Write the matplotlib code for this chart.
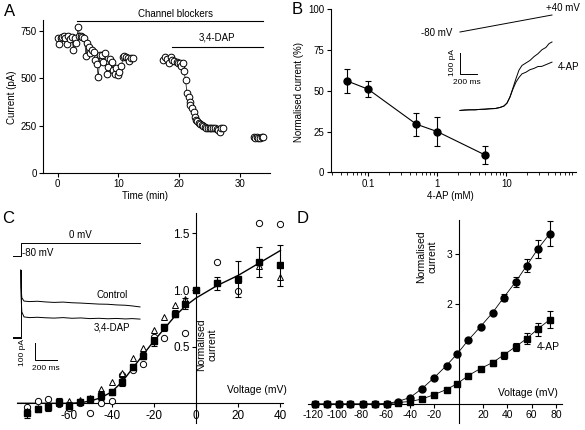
import matplotlib
matplotlib.use("Agg")
import matplotlib.pyplot as plt

plt.rcParams["font.family"] = ["Liberation Sans", "DejaVu Sans"]
plt.rcParams["font.size"] = 7
plt.rcParams["axes.linewidth"] = 0.8
plt.rcParams["axes.unicode_minus"] = False
plt.rcParams["xtick.major.width"] = 0.8
plt.rcParams["ytick.major.width"] = 0.8
plt.rcParams["xtick.major.size"] = 3
plt.rcParams["ytick.major.size"] = 3
plt.rcParams["xtick.major.pad"] = 1.5
plt.rcParams["ytick.major.pad"] = 1.5

W, H = 585, 430

# ---- panel A: current vs time ----
time_a = [0.0, 0.3, 0.5, 0.8, 1.0, 1.3, 1.6, 1.8, 2.1, 2.4, 2.6, 2.9, 3.1, 3.4, 3.6, 3.9,
          4.1, 4.4, 4.7, 4.9, 5.2, 5.4, 5.7, 6.0, 6.2, 6.5, 6.7, 7.0, 7.3, 7.5, 7.8, 8.1,
          8.3, 8.6, 8.9, 9.1, 9.4, 9.7, 9.9, 10.2, 10.5, 10.8, 11.0, 11.3, 11.6, 11.8,
          12.1, 12.4,
          17.4, 17.7, 18.1, 18.4, 18.7, 18.9, 19.2, 19.6, 19.9, 20.1, 20.4, 20.7, 20.8,
          21.1, 21.3, 21.6, 21.8, 21.9, 22.2, 22.4, 22.6, 22.8, 23.0, 23.3, 23.5, 23.8,
          24.0, 24.3, 24.5, 24.8, 25.1, 25.3, 25.6, 25.9, 26.2, 26.4, 26.7, 26.9, 27.3,
          32.3, 32.6, 32.9, 33.1, 33.4, 33.6, 33.8]
current_a = [715, 680, 712, 720, 725, 715, 680, 722, 710, 718, 650, 712, 685, 770, 725, 722,
             720, 715, 618, 685, 667, 635, 650, 640, 597, 574, 505, 623, 625, 588, 632, 523,
             561, 600, 588, 544, 523, 553, 517, 535, 565, 610, 617, 614, 605, 591,
             605, 609,
             597, 614, 600, 579, 610, 597, 591, 588, 582, 579, 565, 582, 540,
             491, 421, 400, 377, 359, 341, 324, 297, 280, 276, 266, 259, 253,
             248, 245, 239, 239, 236, 236, 239, 236, 231, 227, 218, 236, 239,
             188, 186, 189, 187, 186, 190, 192]
segments_a = [(0, 48), (48, 87), (87, 94)]

# ---- panel B: dose response ----
conc_b = [0.05, 0.1, 0.5, 1, 5]
mean_b = [56, 51, 29.5, 25, 10.5]
err_b = [7.5, 5, 7, 9, 5.5]
# inset traces (ms, pA) and ramp (mV)
t_b = [0, 59, 118, 176, 235, 294, 353, 412, 470, 517, 553, 588, 623, 659, 694, 729,
       776, 823, 870, 917, 964, 1011, 1047, 1082]
ctrl_b = [-2, 0, 1, 1, 3, 4, 6, 7, 12, 19, 33, 62, 105, 150, 190, 212, 224, 236, 254,
          268, 287, 298, 316, 324]
ap_b = [-2, 0, 1, 1, 3, 4, 6, 7, 12, 19, 33, 62, 100, 133, 155, 172, 180, 192, 198, 207,
        208, 216, 222, 228]
ramp_t = [0, 1082]
ramp_mv = [-80, 40]

# ---- panel C: I-V with 3,4-DAP ----
v_c = [-80, -75, -70, -65, -60, -55, -50, -45, -40, -35, -30, -25, -20, -15, -10, -5,
       0, 10, 20, 30, 40]
sq_c = [-0.09, -0.05, -0.035, 0.015, -0.02, 0.01, 0.035, 0.065, 0.10, 0.19, 0.32, 0.42,
        0.55, 0.67, 0.79, 0.88, 1.0, 1.06, 1.10, 1.25, 1.22]
sq_err_c = [0.04, 0.03, 0.03, 0.03, 0.03, 0.02, 0.03, 0.04, 0.03, 0.04, 0.03, 0.03,
            0.04, 0.03, 0.03, 0.05, 0, 0.06, 0.16, 0.13, 0.18]
tri_c = [-0.07, -0.045, -0.02, 0.0, 0.02, 0.025, 0.05, 0.13, 0.19, 0.27, 0.40, 0.49,
         0.65, 0.76, 0.87, 0.92, 1.0, 1.07, 1.09, 1.21, 1.12]
circ_c = [-0.03, 0.02, 0.04, -0.01, -0.04, 0.0, -0.09, 0.005, 0.02, 0.25, 0.29, 0.35,
          0.59, 0.58, 0.79, 0.62, 1.0, 1.25, 0.99, 1.59, 1.58]
vfit_c = [-85, -60, -55, -50, -45, -40, -35, -30, -25, -20, -15, -10, -5, 0, 10, 20, 30, 40]
fit_c = [0, 0, 0.005, 0.02, 0.05, 0.10, 0.19, 0.31, 0.43, 0.55, 0.66, 0.77, 0.86, 0.93,
         1.04, 1.13, 1.24, 1.35]
# inset traces (ms, pA) and step (mV)
t_c = [0, 3, 10, 30, 80, 150, 220, 300, 380, 460, 540, 620, 700, 780, 860, 940, 1000, 1070]
ctrl_c = [400, 300, 235, 215, 212, 214, 210, 207, 209, 205, 203, 200, 197, 196, 192, 190,
          186, 180]
dap_c = [400, 250, 150, 120, 116, 118, 115, 113, 116, 112, 114, 110, 112, 109, 111, 108,
         110, 107]
base_t = [-70, 0, 0]
base_pa = [0, 0, 400]
step_t = [-70, 0, 0, 1070]
step_mv = [-80, -80, 0, 0]

# ---- panel D: I-V with 4-AP ----
v_d = [-118, -108, -98, -89, -79, -69, -59, -50, -40, -30, -20, -10, -1, 8, 18, 28, 37,
       47, 56, 65, 75]
ctrl_d = [0, 0, 0, 0, 0, 0, 0.01, 0.05, 0.13, 0.31, 0.53, 0.77, 1.01, 1.28, 1.55, 1.83,
          2.13, 2.45, 2.77, 3.10, 3.41]
ctrl_err_d = [0, 0, 0, 0, 0, 0, 0, 0, 0, 0, 0, 0, 0, 0, 0, 0.03, 0.07, 0.10, 0.13, 0.18, 0.25]
ap_d = [0, 0, 0, 0, 0, 0, 0.0, 0.03, 0.05, 0.10, 0.19, 0.29, 0.41, 0.57, 0.71, 0.83,
        0.98, 1.15, 1.31, 1.50, 1.69]
ap_err_d = [0, 0, 0, 0, 0, 0, 0, 0, 0, 0, 0, 0, 0, 0, 0.03, 0.06, 0.07, 0.08, 0.11, 0.13, 0.17]


def box(l, t, r, b):
    return [l / W, 1 - b / H, (r - l) / W, (b - t) / H]


def ftext(fig, x, y, s, **kw):
    kw.setdefault("ha", "center")
    kw.setdefault("va", "center")
    fig.text(x / W, 1 - y / H, s, **kw)


fig = plt.figure(figsize=(W / 100, H / 100), dpi=100)

# ===== A =====
axA = fig.add_axes(box(43, 20, 270, 173))
for i0, i1 in segments_a:
    axA.plot(time_a[i0:i1], current_a[i0:i1], color="k", lw=0.5, marker="o", ms=4.8,
             mfc="white", mec="k", mew=0.7)
axA.plot([3.2, 33.8], [803, 803], color="k", lw=0.8, clip_on=False)
axA.plot([18.8, 33.8], [666, 666], color="k", lw=0.8)
axA.set_xlim(-2.4, 35)
axA.set_ylim(0, 808)
axA.set_xticks([0, 10, 20, 30])
axA.set_yticks([0, 250, 500, 750])
for s in ("top", "right"):
    axA.spines[s].set_visible(False)
ftext(fig, 176, 14, "Channel blockers", fontsize=7)
ftext(fig, 217, 37, "3,4-DAP", fontsize=7)
ftext(fig, 145, 196, "Time (min)", fontsize=7)
ftext(fig, 12, 97, "Current (pA)", fontsize=7, rotation=90)
ftext(fig, 10, 12, "A", fontsize=12)

# ===== B =====
axB = fig.add_axes(box(330.7, 9.3, 576, 172.3))
axB.errorbar(conc_b, mean_b, yerr=err_b, color="k", lw=0.8, marker="o", ms=5,
             capsize=2.2, elinewidth=0.8, capthick=0.8)
axB.set_xscale("log")
axB.set_xlim(0.0288, 102)
axB.set_ylim(0, 100)
axB.set_yticks([0, 25, 50, 75, 100])
axB.set_xticks([0.1, 1, 10])
axB.set_xticklabels(["0.1", "1", "10"])
axB.tick_params(axis="x", which="minor", length=2, width=0.6)
for s in ("top", "right"):
    axB.spines[s].set_visible(False)
ftext(fig, 450, 196, "4-AP (mM)", fontsize=7)
ftext(fig, 299, 92, "Normalised current (%)", fontsize=7, rotation=90)
ftext(fig, 297, 10, "B", fontsize=12)

insB = fig.add_axes(box(452, 5, 562, 118))
insB.plot(t_b, ctrl_b, color="k", lw=0.7)
insB.plot(t_b, ap_b, color="k", lw=0.7)
insB.plot([0, 0, 200], [271, 171, 171], color="k", lw=0.7)
insB.set_xlim(-94, 1200)
insB.set_ylim(-38, 500)
insB.axis("off")
rampB = insB.twinx()
rampB.plot(ramp_t, ramp_mv, color="k", lw=0.7)
rampB.set_ylim(-687, 110.6)
rampB.axis("off")
ftext(fig, 437, 33, "-80 mV", fontsize=7)
ftext(fig, 563, 8, "+40 mV", fontsize=7)
ftext(fig, 558, 67, "4-AP", fontsize=7, ha="left")
ftext(fig, 453, 63, "100 pA", fontsize=6, rotation=90)
ftext(fig, 467, 83, "200 ms", fontsize=6)

# ===== C =====
axC = fig.add_axes(box(17, 213, 283, 423))
axC.plot(vfit_c, fit_c, color="k", lw=1.0, zorder=2)
axC.plot(v_c, circ_c, ls="none", marker="o", ms=4.5, mfc="white", mec="k", mew=0.7,
         zorder=3)
axC.plot(v_c, tri_c, ls="none", marker="^", ms=5, mfc="white", mec="k", mew=0.7, zorder=3)
axC.errorbar(v_c, sq_c, yerr=sq_err_c, ls="none", marker="s", ms=4, color="k",
             capsize=2, elinewidth=0.8, capthick=0.8, zorder=4)
axC.set_xlim(-84.8, 41.2)
axC.set_ylim(-0.174, 1.681)
axC.spines["left"].set_position(("data", 0))
axC.spines["bottom"].set_position(("data", 0))
for s in ("top", "right"):
    axC.spines[s].set_visible(False)
axC.set_xticks([-60, -40, -20, 0, 20, 40])
axC.set_yticks([0.5, 1.0, 1.5])
axC.set_yticklabels(["0.5", "1.0", "1.5"])
axC.tick_params(labelsize=8.5)
ftext(fig, 207, 345, "Normalised\ncurrent", fontsize=7.5, rotation=90)
ftext(fig, 257, 390, "Voltage (mV)", fontsize=7.5)
ftext(fig, 8, 218, "C", fontsize=12)

insC = fig.add_axes(box(10, 228, 145, 375))
insC.plot(base_t, base_pa, color="k", lw=0.7)
insC.plot([-70, 0], [-8, -8], color="k", lw=0.7)
insC.plot(t_c, ctrl_c, color="k", lw=0.7)
insC.plot(t_c, dap_c, color="k", lw=0.7)
insC.plot([128, 128, 328], [-38, -138, -138], color="k", lw=0.7)
insC.set_xlim(-96, 1115)
insC.set_ylim(-228, 653)
insC.axis("off")
stepC = insC.twinx()
stepC.plot(step_t, step_mv, color="k", lw=0.7)
stepC.set_ylim(-830, 96)
stepC.axis("off")
ftext(fig, 80, 235, "0 mV", fontsize=7)
ftext(fig, 38, 253, "-80 mV", fontsize=7)
ftext(fig, 112, 295, "Control", fontsize=7)
ftext(fig, 112, 327, "3,4-DAP", fontsize=7)
ftext(fig, 22.7, 352, "100 pA", fontsize=6, rotation=90)
ftext(fig, 46, 368, "200 ms", fontsize=6)

# ===== D =====
axD = fig.add_axes(box(308, 220, 562, 423))
axD.errorbar(v_d, ctrl_d, yerr=ctrl_err_d, color="k", lw=0.6, marker="o", ms=5,
             capsize=2, elinewidth=0.8, capthick=0.8)
axD.errorbar(v_d, ap_d, yerr=ap_err_d, color="k", lw=0.6, marker="s", ms=4.3,
             capsize=2, elinewidth=0.8, capthick=0.8)
axD.set_xlim(-123.8, 84.9)
axD.set_ylim(-0.38, 3.68)
axD.spines["left"].set_position(("data", 0))
axD.spines["bottom"].set_position(("data", 0))
for s in ("top", "right"):
    axD.spines[s].set_visible(False)
axD.set_xticks([-120, -100, -80, -60, -40, -20, 20, 40, 60, 80])
axD.set_yticks([2, 3])
axD.tick_params(labelsize=7.5)
ftext(fig, 427, 257, "Normalised\ncurrent", fontsize=7.5, rotation=90)
ftext(fig, 528, 393, "Voltage (mV)", fontsize=7.5)
ftext(fig, 548, 347, "4-AP", fontsize=7.5)
ftext(fig, 303, 218, "D", fontsize=12)

fig.savefig("out.png", dpi=100)
